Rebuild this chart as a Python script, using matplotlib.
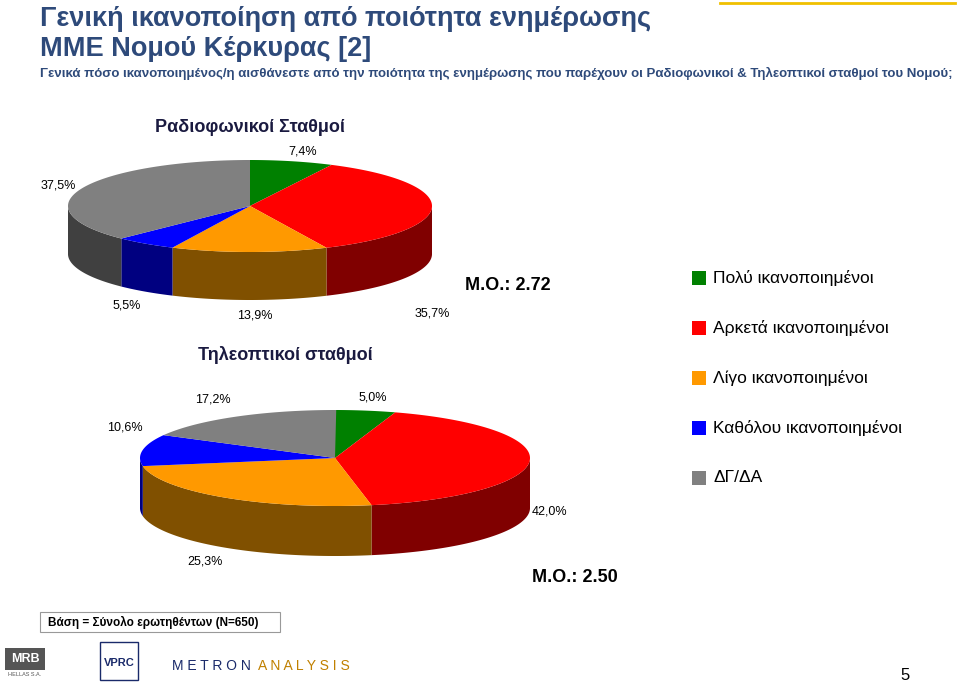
import numpy as np
import matplotlib
matplotlib.use("Agg")
import matplotlib.pyplot as plt
from matplotlib.patches import Polygon, Rectangle

categories = ["Πολύ ικανοποιημένοι", "Αρκετά ικανοποιημένοι", "Λίγο ικανοποιημένοι",
              "Καθόλου ικανοποιημένοι", "ΔΓ/ΔΑ"]
radio_values = [7.4, 35.7, 13.9, 5.5, 37.5]
tv_values = [5.0, 42.0, 25.3, 10.6, 17.2]
radio_labels = ["7,4%", "35,7%", "13,9%", "5,5%", "37,5%"]
tv_labels = ["5,0%", "42,0%", "25,3%", "10,6%", "17,2%"]

top_colors = ["#008000", "#FF0000", "#FF9900", "#0000FF", "#808080"]
side_colors = ["#004000", "#800000", "#805000", "#000080", "#404040"]

plt.rcParams["font.family"] = "Liberation Sans"
fig = plt.figure(figsize=(9.6, 6.84), dpi=100)
ax = fig.add_axes([0, 0, 1, 1])
ax.set_xlim(0, 960); ax.set_ylim(684, 0); ax.axis("off")

def pie3d(values, cx, cy, rx, ry, depth):
    cum = 0
    tops = []
    for i, v in enumerate(values):
        a1 = 90 - cum * 3.6
        a2 = 90 - (cum + v) * 3.6
        cum += v
        t = np.radians(np.linspace(a2, a1, 300))
        xs = cx + rx * np.cos(t); ys = cy - ry * np.sin(t)
        tops.append((np.r_[cx, xs, cx], np.r_[cy, ys, cy], i))
        front = np.sin(t) <= 0
        if front.any():
            idx = np.where(front)[0]
            groups = np.split(idx, np.where(np.diff(idx) > 1)[0] + 1)
            for g in groups:
                px = xs[g]; py = ys[g]
                poly = np.c_[np.r_[px, px[::-1]], np.r_[py, py[::-1] + depth]]
                ax.add_patch(Polygon(poly, closed=True, fc=side_colors[i], ec="none"))
    for xs, ys, i in tops:
        ax.add_patch(Polygon(np.c_[xs, ys], closed=True, fc=top_colors[i], ec="none"))

pie3d(radio_values, 250, 206, 182, 46, 48)
pie3d(tv_values, 335, 458, 195, 48, 50)

lab = dict(fontsize=9, ha="center", va="center", color="black")
for (x, y), s in zip([(303, 152), (432, 313), (255, 315), (127, 305), (58, 186)], radio_labels):
    ax.text(x, y, s, **lab)
for (x, y), s in zip([(373, 398), (550, 512), (205, 562), (125, 428), (213, 400)], tv_labels):
    ax.text(x, y, s, **lab)

ax.text(250, 128, "Ραδιοφωνικοί Σταθμοί", fontsize=13, fontweight="bold", ha="center", va="center", color="#1a1a40")
ax.text(285, 355, "Τηλεοπτικοί σταθμοί", fontsize=13, fontweight="bold", ha="center", va="center", color="#1a1a40")
ax.text(508, 285, "Μ.Ο.: 2.72", fontsize=13, fontweight="bold", ha="center", va="center")
ax.text(575, 578, "Μ.Ο.: 2.50", fontsize=13, fontweight="bold", ha="center", va="center")

tc = "#2E4A7A"
ax.text(40, 19, "Γενική ικανοποίηση από ποιότητα ενημέρωσης", fontsize=19.5, fontweight="bold", color=tc, va="center")
ax.text(40, 49, "ΜΜΕ Νομού Κέρκυρας [2]", fontsize=19.5, fontweight="bold", color=tc, va="center")
ax.text(40, 73, "Γενικά πόσο ικανοποιημένος/η αισθάνεστε από την ποιότητα της ενημέρωσης που παρέχουν οι Ραδιοφωνικοί & Τηλεοπτικοί σταθμοί του Νομού;",
        fontsize=9.5, fontweight="bold", color=tc, va="center")
ax.plot([720, 955], [3, 3], color="#F0C000", lw=2)

for k, c in enumerate(categories):
    y = 278 + k * 50
    ax.add_patch(Rectangle((692, y - 7), 14, 14, fc=top_colors[k], ec="none"))
    ax.text(713, y, c, fontsize=12.5, va="center")

ax.add_patch(Rectangle((40, 612), 240, 20, fc="white", ec="#999999", lw=0.8))
ax.text(48, 622, "Βάση = Σύνολο ερωτηθέντων (N=650)", fontsize=8.5, fontweight="bold", va="center")

ax.add_patch(Rectangle((5, 648), 40, 22, fc="#555555", ec="none"))
ax.text(25, 659, "MRB", fontsize=9, fontweight="bold", color="white", ha="center", va="center")
ax.text(25, 675, "HELLAS S.A.", fontsize=4, color="#555555", ha="center", va="center")
ax.add_patch(Rectangle((100, 642), 38, 38, fc="white", ec="#1a2a6a", lw=1))
ax.text(119, 663, "VPRC", fontsize=8, fontweight="bold", color="#1a2a6a", ha="center", va="center")
ax.text(172, 666, "M E T R O N", fontsize=10, color="#1a2a6a", va="center")
ax.text(258, 666, "A N A L Y S I S", fontsize=10, color="#c08000", va="center")
ax.text(905, 676, "5", fontsize=12, ha="center", va="center")

fig.savefig("out.png", dpi=100)
